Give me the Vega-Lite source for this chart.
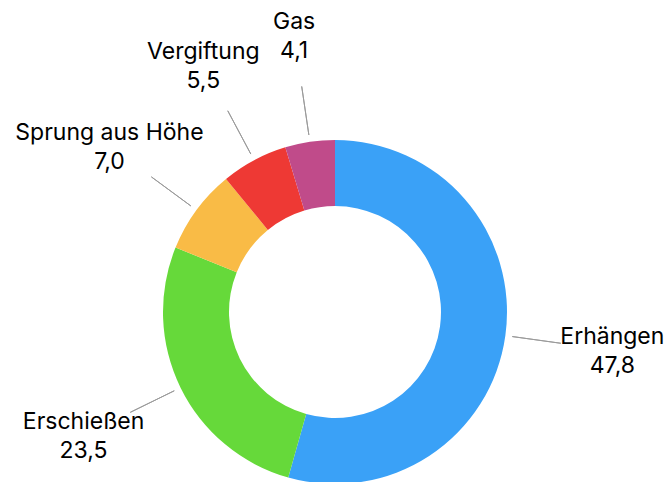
{
  "$schema": "https://vega.github.io/schema/vega-lite/v6.json",
  "width": 670,
  "height": 624,
  "autosize": "none",
  "padding": 0,
  "background": "white",
  "data": {
    "values": [
      {"kategorie": "Erhängen", "wert": 47.8},
      {"kategorie": "Erschießen", "wert": 23.5},
      {"kategorie": "Sprung aus Höhe", "wert": 7.0},
      {"kategorie": "Vergiftung", "wert": 5.5},
      {"kategorie": "Gas", "wert": 4.1}
    ]
  },
  "layer": [
    {
      "mark": {"type": "arc", "innerRadius": 106, "outerRadius": 172},
      "encoding": {
        "theta": {"field": "wert", "type": "quantitative", "stack": true},
        "order": {"field": "wert", "sort": "descending"},
        "color": {
          "field": "kategorie",
          "type": "nominal",
          "legend": null,
          "scale": {
            "domain": ["Erhängen", "Erschießen", "Sprung aus Höhe", "Vergiftung", "Gas"],
            "range": ["#3aa1f7", "#66d93a", "#f9bb46", "#ee3934", "#c04b8a"]
          }
        }
      }
    },
    {
      "transform": [
        {"stack": "wert", "groupby": [], "sort": [{"field": "wert", "order": "descending"}], "as": ["s", "e"]},
        {"fold": ["s", "e"], "as": ["grenze", "winkel"]},
        {"aggregate": [{"op": "mean", "field": "winkel", "as": "mitte"}], "groupby": ["kategorie"]}
      ],
      "mark": {"type": "arc", "innerRadius": 179, "outerRadius": 228, "filled": false, "stroke": "#9b9b9b", "strokeWidth": 1},
      "encoding": {
        "theta": {"field": "mitte", "type": "quantitative"},
        "theta2": {"field": "mitte"}
      }
    },
    {
      "mark": {"type": "text", "radius": 280, "dy": -13, "font": "Inter", "fontSize": 23, "color": "#000000", "align": "center", "baseline": "middle"},
      "encoding": {
        "theta": {"field": "wert", "type": "quantitative", "stack": true},
        "order": {"field": "wert", "sort": "descending"},
        "text": {"field": "kategorie", "type": "nominal"}
      }
    },
    {
      "mark": {"type": "text", "radius": 280, "dy": 16, "font": "Inter", "fontSize": 23, "color": "#000000", "align": "center", "baseline": "middle"},
      "encoding": {
        "theta": {"field": "wert", "type": "quantitative", "stack": true},
        "order": {"field": "wert", "sort": "descending"},
        "text": {"field": "wert", "type": "quantitative", "format": ".1f"}
      }
    }
  ],
  "config": {
    "view": {"stroke": null},
    "locale": {
      "number": {"decimal": ",", "thousands": ".", "grouping": [3], "currency": ["", " €"]}
    }
  }
}
